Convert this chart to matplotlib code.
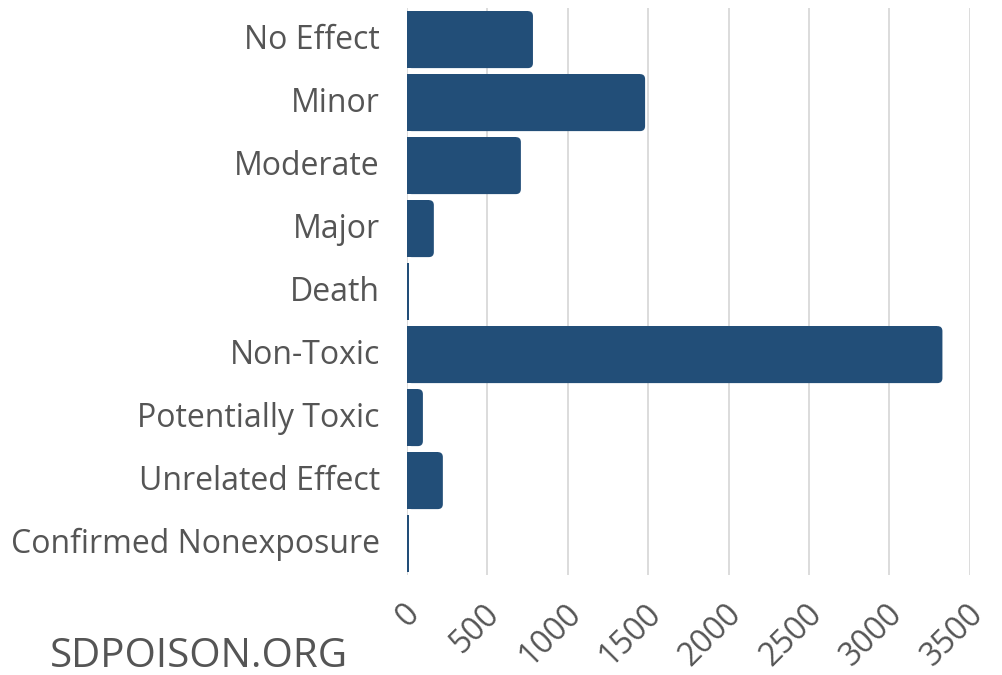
import matplotlib
matplotlib.use("Agg")
import matplotlib.pyplot as plt
import matplotlib.transforms as mtransforms
from matplotlib.patches import FancyBboxPatch

# data
categories = ["No Effect", "Minor", "Moderate", "Major", "Death", "Non-Toxic",
              "Potentially Toxic", "Unrelated Effect", "Confirmed Nonexposure"]
counts = [784, 1481, 709, 168, 12, 3329, 100, 224, 12]
xticks = [0, 500, 1000, 1500, 2000, 2500, 3000, 3500]

bar_color = "#224e78"
text_color = "#555555"

plt.rcParams["font.family"] = ["Open Sans", "DejaVu Sans"]

fig = plt.figure(figsize=(10.02, 6.75), dpi=100)
ax_pos = [0.406, 0.148, 0.562, 0.840]
ax = fig.add_axes(ax_pos)
ax.set_ylim(len(categories) - 0.5, -0.5)
ax.set_xlim(0, 3500)

# bars with rounded right-hand corners
bar_h = 0.905
px_x = 3500 / (ax_pos[2] * 1002)               # data units per pixel, x
px_y = len(categories) / (ax_pos[3] * 675)     # data units per pixel, y
r = 5 * px_x
for i, w in enumerate(counts):
    if w > 2 * r:
        ax.barh(i, w - r, height=bar_h, color=bar_color, zorder=3, linewidth=0)
        ax.add_patch(FancyBboxPatch((0, i - bar_h / 2), w, bar_h,
                                    boxstyle=f"round,pad=0,rounding_size={r}",
                                    mutation_aspect=px_y / px_x,
                                    facecolor=bar_color, edgecolor="none", zorder=3))
    else:
        ax.barh(i, w, height=bar_h, color=bar_color, zorder=3, linewidth=0)

ax.set_yticks(range(len(categories)))
ax.set_yticklabels([])
ax.set_xticks(xticks)
ax.set_xticklabels([])

# category labels, baseline set so caps sit just above bar centre
ytrans = ax.get_yaxis_transform() + mtransforms.ScaledTranslation(
    -0.27, -0.095, fig.dpi_scale_trans)
for i, name in enumerate(categories):
    ax.text(0, i, name, transform=ytrans, fontsize=23, color=text_color,
            ha="right", va="baseline", clip_on=False)

# rotated x labels drawn by hand so the offset sticks
xtrans = ax.get_xaxis_transform() + mtransforms.ScaledTranslation(
    0.08, -0.34, fig.dpi_scale_trans)
for t in xticks:
    ax.text(t, 0, str(t), transform=xtrans, fontsize=23, color=text_color,
            rotation=45, ha="right", va="center", rotation_mode="anchor",
            clip_on=False)

ax.tick_params(axis="both", length=0)
ax.grid(axis="x", color="#d9d9d9", linewidth=1.3, zorder=0)
for s in ax.spines.values():
    s.set_visible(False)

fig.text(0.05, 0.012, "SDPOISON.ORG", fontsize=29, color=text_color)

fig.savefig("out.png", dpi=100)
